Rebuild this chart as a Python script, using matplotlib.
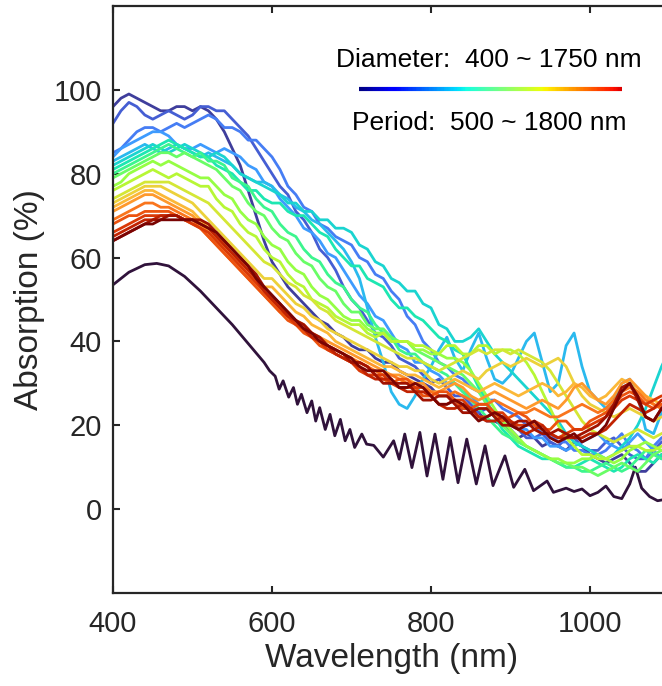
import numpy as np
import matplotlib
matplotlib.use("Agg")
import matplotlib.pyplot as plt
from matplotlib.collections import LineCollection

plt.rcParams['font.family'] = ['Liberation Sans', 'DejaVu Sans']

# wavelength grid of the measured spectra (nm)
wl = list(range(400, 1101, 10))

# absorption spectra (%), small diameter/period first -> large
spectra = [
    [96, 98, 99, 98, 97, 96, 95, 95, 96, 96,
     95, 96, 95, 93, 90, 86, 82, 76, 70, 64,
     59, 56, 53, 51, 49, 47, 45, 44, 42, 41,
     39, 38, 38, 36, 35, 35, 33, 32, 31, 30,
     29, 27, 27, 26, 24, 24, 23, 21, 21, 20,
     19, 17, 18, 17, 15, 16, 15, 14, 16, 15,
     13, 12, 11, 12, 13, 11, 9, 9, 11, 13, 14],
    [92, 95, 97, 96, 94, 93, 94, 95, 94, 93,
     94, 96, 96, 95, 95, 93, 91, 89, 86, 83,
     80, 77, 75, 71, 69, 66, 62, 60, 57, 53,
     50, 48, 45, 42, 41, 39, 36, 35, 34, 32,
     30, 31, 29, 27, 27, 25, 23, 24, 22, 20,
     20, 19, 17, 17, 18, 16, 15, 17, 17, 15,
     14, 14, 16, 17, 15, 13, 12, 12, 14, 16, 17],
    [85, 86, 88, 90, 91, 91, 90, 91, 92, 91,
     92, 93, 94, 93, 91, 91, 90, 88, 88, 86,
     84, 81, 77, 75, 72, 71, 68, 67, 65, 64,
     63, 60, 59, 56, 55, 52, 50, 46, 44, 40,
     38, 35, 34, 32, 31, 29, 28, 26, 26, 24,
     23, 22, 20, 20, 18, 18, 16, 16, 14, 14,
     13, 13, 14, 16, 18, 15, 14, 12, 15, 17, 18],
    [84, 86, 87, 88, 89, 90, 90, 89, 87, 86,
     86, 87, 86, 85, 86, 85, 84, 82, 81, 78,
     77, 74, 72, 70, 67, 66, 64, 61, 60, 57,
     54, 51, 49, 46, 45, 42, 39, 38, 35, 35,
     33, 32, 30, 30, 28, 27, 25, 25, 23, 22,
     21, 19, 19, 17, 17, 15, 15, 14, 15, 16,
     17, 18, 16, 15, 14, 16, 18, 16, 14, 12, 13],
    [83, 84, 85, 86, 87, 86, 85, 86, 87, 86,
     85, 84, 85, 84, 83, 82, 80, 79, 78, 78,
     77, 75, 74, 72, 71, 69, 68, 66, 64, 62,
     59, 55, 48, 41, 35, 28, 25, 24, 27, 31,
     34, 38, 41, 36, 33, 38, 42, 36, 31, 30,
     32, 36, 40, 42, 35, 28, 30, 39, 42, 34,
     28, 26, 24, 26, 30, 31, 27, 19, 18, 23, 26],
    [82, 83, 84, 85, 86, 87, 86, 85, 86, 87,
     86, 85, 84, 85, 84, 82, 80, 79, 78, 77,
     76, 75, 73, 73, 71, 71, 69, 69, 67, 67,
     66, 63, 62, 59, 58, 55, 54, 52, 52, 49,
     48, 44, 43, 40, 40, 41, 43, 40, 37, 35,
     33, 31, 29, 27, 25, 23, 21, 18, 16, 15,
     14, 13, 12, 13, 15, 17, 20, 24, 29, 34, 38],
    [81, 82, 83, 84, 85, 86, 87, 88, 87, 86,
     85, 84, 84, 82, 81, 80, 78, 76, 76, 74,
     73, 73, 71, 70, 70, 68, 66, 65, 62, 60,
     58, 58, 55, 54, 53, 50, 48, 48, 46, 45,
     43, 41, 40, 38, 37, 33, 29, 26, 22, 19,
     17, 15, 14, 13, 12, 12, 11, 10, 10, 11,
     12, 11, 10, 9, 10, 12, 13, 12, 11, 13, 14],
    [80, 81, 82, 83, 84, 85, 86, 87, 86, 85,
     84, 85, 83, 83, 82, 79, 78, 77, 74, 72,
     71, 68, 66, 65, 62, 60, 59, 56, 54, 53,
     50, 48, 47, 44, 42, 41, 38, 37, 37, 35,
     34, 33, 32, 30, 28, 26, 24, 22, 20, 18,
     17, 16, 15, 14, 13, 12, 11, 10, 10, 9,
     9, 10, 11, 10, 9, 10, 12, 14, 13, 12, 13],
    [79, 80, 81, 82, 83, 84, 85, 85, 84, 85,
     84, 83, 82, 81, 79, 77, 76, 73, 71, 70,
     67, 65, 64, 61, 59, 58, 55, 53, 52, 49,
     47, 47, 44, 43, 43, 41, 40, 40, 38, 37,
     36, 35, 34, 33, 32, 30, 28, 25, 22, 20,
     18, 16, 15, 14, 13, 12, 11, 11, 10, 10,
     9, 8, 9, 10, 11, 10, 9, 11, 13, 14, 15],
    [77, 78, 80, 81, 82, 83, 82, 83, 82, 81,
     80, 79, 79, 77, 75, 74, 71, 69, 68, 65,
     63, 62, 59, 57, 56, 53, 51, 50, 48, 46,
     45, 45, 43, 42, 42, 40, 40, 40, 38, 38,
     37, 37, 36, 36, 35, 33, 30, 27, 24, 21,
     19, 17, 15, 14, 13, 12, 12, 11, 11, 12,
     12, 13, 12, 11, 12, 14, 15, 16, 15, 14, 14],
    [76, 77, 78, 79, 80, 81, 80, 79, 80, 79,
     78, 77, 77, 74, 72, 71, 68, 66, 65, 62,
     60, 59, 56, 54, 53, 50, 49, 48, 46, 45,
     44, 44, 42, 41, 42, 40, 40, 40, 39, 39,
     38, 37, 39, 39, 37, 37, 39, 39, 37, 38,
     38, 37, 35, 32, 28, 24, 20, 17, 15, 13,
     13, 12, 12, 13, 14, 15, 15, 14, 14, 15, 16],
    [74, 75, 76, 77, 78, 78, 78, 78, 77, 76,
     75, 74, 73, 71, 69, 67, 65, 63, 61, 59,
     58, 56, 54, 53, 51, 50, 48, 47, 45, 44,
     43, 42, 41, 40, 39, 38, 37, 36, 36, 35,
     34, 33, 34, 35, 36, 37, 38, 37, 38, 38,
     37, 38, 37, 36, 35, 33, 30, 27, 24, 21,
     19, 18, 17, 16, 17, 18, 19, 18, 17, 18, 19],
    [73, 74, 75, 76, 77, 77, 77, 76, 75, 74,
     73, 71, 69, 67, 65, 63, 61, 59, 57, 55,
     55, 53, 51, 49, 48, 46, 45, 43, 42, 41,
     40, 39, 38, 37, 36, 35, 34, 34, 33, 33,
     31, 30, 31, 32, 33, 32, 31, 33, 34, 35,
     34, 35, 36, 35, 34, 35, 36, 34, 30, 27,
     25, 24, 23, 22, 23, 24, 23, 22, 21, 22, 22],
    [72, 73, 74, 75, 76, 76, 75, 74, 73, 72,
     71, 69, 67, 65, 63, 61, 59, 57, 55, 53,
     53, 51, 49, 47, 46, 44, 43, 42, 40, 39,
     38, 37, 36, 35, 34, 34, 33, 32, 32, 31,
     30, 29, 30, 31, 30, 29, 28, 29, 30, 29,
     28, 27, 28, 29, 30, 29, 27, 28, 30, 29,
     27, 26, 27, 29, 31, 30, 28, 27, 26, 25, 25],
    [71, 72, 73, 74, 75, 75, 74, 73, 72, 71,
     70, 68, 66, 64, 62, 60, 58, 56, 54, 52,
     50, 48, 47, 45, 44, 42, 41, 40, 39, 38,
     37, 36, 35, 34, 33, 32, 32, 31, 30, 30,
     28, 28, 29, 30, 29, 27, 26, 27, 28, 27,
     26, 25, 24, 25, 26, 25, 24, 26, 29, 30,
     28, 26, 25, 27, 30, 31, 29, 27, 25, 24, 24],
    [69, 70, 71, 72, 73, 73, 72, 72, 71, 70,
     69, 67, 65, 63, 61, 59, 57, 55, 53, 51,
     49, 47, 46, 44, 43, 41, 40, 39, 38, 37,
     36, 35, 34, 33, 32, 32, 31, 30, 30, 29,
     28, 27, 27, 28, 27, 26, 25, 25, 26, 25,
     24, 23, 23, 24, 23, 22, 22, 23, 24, 25,
     24, 23, 24, 26, 28, 29, 28, 26, 25, 24, 24],
    [68, 69, 70, 70, 71, 71, 71, 71, 70, 69,
     68, 67, 65, 63, 61, 59, 57, 55, 53, 51,
     49, 47, 45, 44, 42, 41, 39, 38, 37, 36,
     35, 35, 34, 32, 31, 30, 31, 31, 29, 27,
     27, 28, 28, 26, 24, 24, 25, 25, 23, 21,
     22, 23, 22, 20, 19, 19, 21, 21, 19, 19,
     21, 22, 23, 25, 27, 28, 27, 25, 24, 25, 25],
    [66, 67, 68, 69, 70, 70, 70, 70, 70, 69,
     68, 67, 66, 64, 62, 60, 58, 56, 54, 52,
     50, 48, 46, 44, 43, 41, 40, 38, 37, 36,
     35, 33, 32, 32, 32, 30, 29, 29, 29, 29,
     27, 25, 25, 26, 26, 24, 22, 22, 23, 23,
     21, 20, 20, 21, 20, 18, 17, 18, 19, 19,
     20, 21, 22, 24, 26, 27, 26, 25, 26, 27, 27],
    [65, 66, 67, 68, 69, 69, 70, 70, 70, 69,
     69, 68, 67, 65, 63, 61, 59, 57, 55, 52,
     50, 48, 46, 45, 43, 41, 40, 39, 37, 36,
     35, 34, 32, 31, 31, 31, 29, 28, 28, 28,
     27, 25, 24, 24, 25, 24, 22, 21, 21, 22,
     21, 19, 18, 19, 20, 18, 17, 17, 17, 17,
     18, 18, 19, 21, 23, 25, 24, 23, 24, 26, 26],
    [64, 65, 66, 67, 68, 69, 69, 70, 70, 69,
     69, 69, 68, 66, 64, 62, 60, 58, 56, 53,
     51, 49, 47, 45, 44, 42, 41, 39, 38, 37,
     35, 35, 34, 32, 30, 30, 30, 30, 28, 26,
     26, 27, 27, 25, 23, 23, 24, 24, 22, 20,
     20, 21, 21, 19, 18, 18, 19, 18, 17, 18,
     19, 20, 22, 25, 29, 30, 26, 22, 21, 24, 26],
    [64, 65, 66, 67, 68, 68, 69, 69, 69, 69,
     69, 68, 67, 66, 64, 62, 60, 58, 55, 53,
     51, 49, 47, 45, 43, 42, 40, 39, 38, 37,
     36, 34, 33, 33, 33, 31, 29, 29, 30, 29,
     27, 25, 25, 26, 25, 23, 21, 22, 23, 22,
     20, 19, 20, 21, 19, 17, 16, 17, 18, 16,
     17, 18, 20, 24, 28, 30, 27, 22, 21, 24, 26],
]

# flat film reference (thin-film fringes)
ref_wl = [400, 420, 440, 455, 470, 490, 510, 530, 550, 570, 590, 597,
          604, 609, 614, 621, 627, 632, 637, 644, 650, 655, 660, 667,
          673, 679, 686, 692, 698, 704, 713, 719, 728, 740,
          753, 760, 767, 776, 786, 795, 805, 815, 824, 834, 845, 857,
          868, 878, 893, 904, 918, 929, 946, 954, 962, 970, 980, 990,
          1000, 1010, 1020, 1030, 1040, 1050, 1057, 1065, 1075, 1085, 1100]
ref_abs = [53.5, 56.5, 58.3, 58.6, 58.0, 55.5, 52.0, 48.0, 44.0, 39.5, 35.0, 33.0,
           31.7, 28.6, 30.6, 26.7, 29.0, 25.0, 27.4, 23.0, 25.8, 21.0, 24.2, 19.0,
           22.6, 17.5, 21.4, 16.3, 19.0, 14.7, 17.9, 15.5, 15.2, 12.4,
           16.3, 11.9, 17.9, 9.9, 18.3, 7.9, 17.9, 7.1, 17.1, 6.3, 16.7, 6.0,
           15.1, 5.6, 12.7, 5.2, 9.5, 4.4, 6.7, 4.0, 4.5, 5.0, 4.2, 4.8,
           3.2, 4.0, 5.5, 3.0, 2.5, 6.0, 10.0, 5.0, 3.0, 2.0, 2.5]

legend_top = 'Diameter:  400 ~ 1750 nm'
legend_bottom = 'Period:  500 ~ 1800 nm'

fig = plt.figure(figsize=(6.62, 6.86), dpi=100)
ax = fig.add_axes([0.1707, 0.1356, 0.8406, 0.8557])

cmap = plt.get_cmap('turbo')
colors = cmap(np.linspace(0.06, 1.0, len(spectra)))

ax.plot(ref_wl, ref_abs, color=cmap(0.0), lw=2.0, solid_joinstyle='round')
for spec, c in zip(spectra, colors):
    ax.plot(wl, spec, color=c, lw=2.0, solid_joinstyle='round')

ax.set_xlim(400, 1100)
ax.set_ylim(-20, 120)
ax.set_xticks([400, 600, 800, 1000])
ax.set_yticks([0, 20, 40, 60, 80, 100])
ax.tick_params(direction='in', length=5, width=1.5, labelsize=21,
               colors='#262626', top=True, right=True)
ax.tick_params(axis='x', pad=12)
ax.tick_params(axis='y', pad=8)
for s in ax.spines.values():
    s.set_linewidth(1.6)
    s.set_color('#262626')
ax.set_xlabel('Wavelength (nm)', fontsize=24, color='#262626', labelpad=4)
ax.set_ylabel('Absorption (%)', fontsize=24, color='#262626', labelpad=6)

# colour legend: text + gradient line
fig.text(0.739, 0.902, legend_top, fontsize=19, ha='center', va='baseline')
fig.text(0.739, 0.8105, legend_bottom, fontsize=19, ha='center', va='baseline')
xs = np.linspace(0.542, 0.940, 200)
segs = [[(xs[i], 0.870), (xs[i + 1], 0.870)] for i in range(len(xs) - 1)]
lc = LineCollection(segs, colors=plt.get_cmap('jet')(np.linspace(0.0, 0.92, len(segs))),
                    linewidths=3, transform=fig.transFigure)
fig.add_artist(lc)

fig.savefig('out.png', dpi=100)
